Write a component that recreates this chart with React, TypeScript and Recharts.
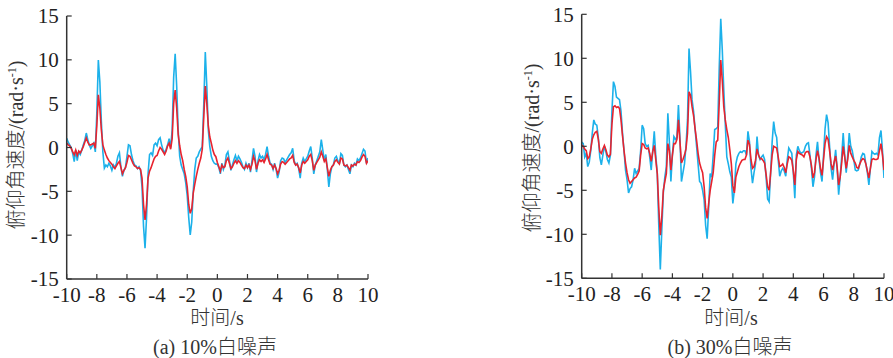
import React from 'react'
import { LineChart, Line, XAxis, YAxis } from 'recharts'

// time grid, 0.1 s steps from -10 s to 10 s
const TIME = Array.from({ length: 201 }, (_, i) => Math.round((-10 + i * 0.1) * 10) / 10)

const X_TICKS = [-10, -8, -6, -4, -2, 0, 2, 4, 6, 8, 10]
const Y_TICKS = [-15, -10, -5, 0, 5, 10, 15]

// (a) 10% white noise — noisy (blue) and filtered (red)
const noisy10 = [
  1.05, 0.6, 0.3, 0.0, -0.7, -1.6, -0.3, -1.5, -0.5, -0.8,
  -0.3, 0.3, 0.8, 1.65, 0.9, 0.3, -0.1, 0.2, 0.5, -0.5,
  4.0, 9.98, 7.5, 3.0, -0.5, -2.35, -2.0, -2.2, -1.8, -2.1,
  -2.6, -2.0, -2.3, -1.8, -1.0, -0.6, -2.2, -3.3, -2.6, -2.3,
  -1.0, 0.3, 0.2, -0.8, -1.5, -2.0, -2.1, -2.4, -2.2, -2.6,
  -4.5, -9.0, -11.5, -8.0, -3.0, -0.8, -0.6, -0.9, 0.3, 0.5,
  0.2, 0.9, 1.1, 0.3, -0.3, -0.6, -0.2, 0.3, 1.0, 0.0,
  2.0, 8.0, 10.7, 7.0, 2.0, -1.0, -2.0, -2.5, -3.0, -4.0,
  -5.5, -8.0, -9.98, -8.5, -5.0, -2.5, -1.2, -1.0, -0.5, -0.2,
  0.1, 5.0, 10.9, 7.0, 2.0, 0.1, -1.0, -1.5, -1.8, -1.9,
  -1.9, -2.3, -3.0, -1.8, -2.5, -2.0, -0.8, -0.5, -1.5, -2.6,
  -2.0, -1.4, -0.9, -1.5, -1.0, -1.3, -1.7, -2.2, -2.5, -1.8,
  -2.3, -1.8, -2.8, -1.5, -0.1, -1.0, -2.8, -1.5, -0.8, -1.2,
  -1.0, -1.4, -0.8, 0.1, -1.0, -1.8, -1.9, -2.5, -1.8, -2.5,
  -3.5, -2.8, -1.5, -1.2, -1.3, -1.7, -1.4, -1.1, -0.8, -0.6,
  -0.1, -1.5, -2.0, -1.8, -2.4, -3.5, -1.8, -1.2, -1.6, -1.3,
  -1.0, -0.4, 0.1, -1.2, -3.0, -2.0, -1.5, -1.0, -0.5, 0.9,
  -0.3, -1.5, -0.8, -2.5, -4.5, -3.0, -2.2, -2.0, -1.2, -1.0,
  -1.5, -1.8, -0.7, -0.9, -2.0, -2.2, -2.0, -2.5, -3.0, -2.0,
  -2.2, -1.8, -2.0, -1.3, -1.5, -1.2, -0.7, -0.2, -0.4, -1.8,
  -1.2,
]
const filtered10 = [
  0.5, 0.3, 0.2, -0.1, -0.5, -0.85, -0.3, -0.9, -0.4, -0.6,
  -0.3, 0.1, 0.6, 1.1, 0.6, 0.3, 0.3, 0.4, 0.5, -0.1,
  2.5, 6.0, 4.5, 2.0, 0.3, -0.3, -0.8, -1.2, -1.5, -1.7,
  -1.9, -2.2, -2.4, -2.1, -1.8, -1.6, -2.3, -3.0, -2.6, -2.3,
  -1.7, -0.9, -1.0, -1.4, -1.8, -2.1, -2.2, -2.4, -2.3, -2.5,
  -3.5, -6.5, -8.27, -6.5, -3.5, -2.7, -2.3, -1.8, -1.3, -1.0,
  -0.9, -0.4, 0.0, -0.2, -0.5, -0.8, -0.4, 0.2, 0.5, -0.2,
  1.0, 5.0, 6.55, 4.5, 1.5, 0.2, -0.8, -1.5, -2.5, -3.3,
  -4.5, -6.5, -7.5, -7.0, -5.2, -4.2, -3.3, -2.5, -1.8, -1.2,
  -0.2, 3.5, 7.0, 5.0, 2.5, 1.2, 0.5, -0.3, -0.8, -1.05,
  -1.7, -2.2, -2.7, -2.0, -2.3, -2.2, -1.5, -1.2, -1.8, -2.4,
  -2.2, -1.8, -1.5, -1.8, -1.5, -1.7, -2.0, -2.3, -2.4, -2.0,
  -2.3, -2.0, -2.5, -1.9, -1.0, -1.5, -2.5, -1.8, -1.4, -1.6,
  -1.4, -1.7, -1.3, -0.8, -1.4, -1.9, -2.0, -2.4, -2.0, -2.4,
  -3.0, -2.6, -1.9, -1.6, -1.7, -1.9, -1.7, -1.5, -1.3, -1.2,
  -0.9, -1.7, -2.0, -1.9, -2.3, -2.9, -2.0, -1.6, -1.8, -1.6,
  -1.4, -1.0, -0.8, -1.5, -2.6, -2.0, -1.7, -1.4, -1.1, -0.5,
  -1.0, -1.6, -1.3, -2.3, -3.3, -2.6, -2.2, -2.0, -1.6, -1.4,
  -1.7, -1.9, -1.2, -1.3, -2.0, -2.1, -2.0, -2.3, -2.6, -2.0,
  -2.1, -1.9, -2.0, -1.6, -1.7, -1.5, -1.1, -0.8, -1.0, -1.8,
  -1.5,
]

// (b) 30% white noise
const noisy30 = [
  0.5, 0.3, -1.2, -0.8, -2.3, -1.8, -0.5, 1.5, 3.0, 2.5,
  2.4, 1.0, -1.3, -2.1, -1.0, 0.0, -0.6, -1.5, -1.9, -1.0,
  4.0, 7.35, 6.8, 5.6, 5.45, 5.3, 4.0, 1.5, -0.5, -2.7,
  -3.8, -5.3, -4.8, -4.6, -3.8, -2.5, -3.1, -2.8, -2.5, -0.5,
  2.4, 2.0, 0.3, 0.0, 0.1, -1.2, -2.7, -0.5, 1.7, -1.0,
  -3.1, -9.0, -14.0, -9.5, -5.3, -3.5, -2.3, 3.75, 0.5, -4.0,
  -1.0, 1.1, 0.8, 1.0, 4.7, 1.0, -4.0, -3.0, -2.0, 0.0,
  3.0, 11.1, 8.5, 5.3, 4.0, 2.0, 0.0, -2.0, -4.0, -4.2,
  -5.0, -6.1, -9.0, -10.5, -7.0, -3.1, -3.5, -1.0, 1.9, 2.0,
  2.2, 9.0, 14.5, 11.0, 6.4, 2.5, -1.2, -2.0, -2.9, -3.5,
  -6.5, -5.0, -2.0, -1.2, -0.8, -0.6, -0.7, -0.5, -0.5, -1.0,
  1.7, 0.5, -2.5, -4.2, -3.0, -2.0, 1.1, -1.0, -1.5, -1.2,
  -1.0, -1.5, -3.5, -6.0, -6.3, -3.0, 0.5, 2.8, 1.5, 1.0,
  -1.5, -3.4, -2.8, -2.5, -2.8, -3.4, -1.5, -0.2, -0.5, -0.8,
  -3.0, -5.9, -1.0, 0.0, -0.5, -0.8, -0.7, -0.6, 0.0, 0.3,
  0.4, -1.0, -2.5, -4.6, -3.5, -1.0, 0.5, -1.5, -3.0, -4.0,
  -1.0, 2.0, 3.6, 2.7, 0.0, -2.5, -3.8, -2.0, -0.4, -2.5,
  -5.5, -3.5, -1.2, 1.5, -1.0, -3.0, -1.0, 1.5, 0.0, -0.5,
  -1.5, -2.7, -2.8, -2.7, -2.0, -1.2, -0.8, -0.9, -2.0, -3.0,
  -4.4, -2.5, -0.6, -0.8, -0.9, -0.8, -1.0, 1.0, 1.8, -0.5,
  -3.6,
]
const filtered30 = [
  0.15, 0.0, -0.3, -0.5, -1.4, -1.2, -0.3, 0.8, 1.3, 1.6,
  1.7, 0.8, -0.6, -0.8, -0.3, 0.1, -0.4, -1.0, -1.2, -0.9,
  2.5, 4.5, 4.6, 4.4, 4.5, 4.3, 3.0, 1.2, -0.5, -1.9,
  -3.0, -3.8, -4.2, -4.0, -3.8, -3.6, -3.5, -3.2, -2.8, -1.0,
  0.3, 0.2, -0.2, -0.3, -0.2, -0.8, -1.7, -0.6, 0.1, -1.5,
  -3.1, -7.0, -10.1, -8.0, -5.0, -4.0, -3.1, 0.3, -0.5, -2.7,
  -1.0, 0.3, 0.3, 0.8, 3.0, 0.5, -1.9, -1.5, -1.0, -0.3,
  1.5, 6.2, 5.8, 4.5, 3.5, 2.0, 0.7, -0.8, -1.9, -2.5,
  -3.0, -4.6, -7.0, -8.2, -6.5, -5.0, -4.0, -3.0, -1.0, 0.5,
  0.7, 5.0, 9.8, 7.5, 4.5, 3.0, 1.9, 1.0, -0.4, -2.0,
  -4.5, -5.3, -3.5, -2.9, -2.3, -1.9, -1.6, -1.5, -1.5, -1.0,
  0.7, 0.2, -1.5, -2.5, -2.3, -1.6, -0.3, -1.0, -1.4, -1.4,
  -1.6, -1.9, -3.2, -4.6, -5.0, -3.0, -1.0, 0.0, -0.1, -0.2,
  -1.2, -2.3, -2.2, -2.0, -2.4, -3.0, -2.0, -1.2, -1.3, -1.6,
  -2.8, -4.4, -1.5, -0.6, -0.8, -0.9, -1.0, -1.2, -0.7, -0.6,
  -0.6, -1.2, -2.2, -3.6, -3.0, -1.5, -0.5, -1.3, -2.5, -3.3,
  -1.5, 0.3, 1.1, 0.8, -0.5, -2.0, -2.7, -1.8, -1.1, -2.4,
  -4.4, -3.5, -1.9, 0.0, -1.2, -2.5, -1.5, 0.1, -0.8, -1.2,
  -1.6, -1.9, -2.4, -2.5, -2.0, -1.6, -1.4, -1.5, -2.0, -2.8,
  -3.6, -2.5, -1.5, -1.4, -1.5, -1.5, -1.4, -0.5, 0.3, -1.0,
  -2.7,
]

const data10 = TIME.map((t, i) => ({ t, noisy: noisy10[i], filtered: filtered10[i] }))
const data30 = TIME.map((t, i) => ({ t, noisy: noisy30[i], filtered: filtered30[i] }))

const SERIF = '"Liberation Serif", "Times New Roman", "Noto Sans CJK SC", serif'
const AXIS = '#333'
const tickStyle = { fontSize: 21, fill: '#222', fontFamily: SERIF }

function Panel({ data, left, width, margin }: {
  data: Array<Record<string, number>>
  left: number
  width: number
  margin: { top: number; right: number; bottom: number; left: number }
}) {
  return (
    <div style={{ position: 'absolute', left, top: 0 }}>
      <LineChart width={width} height={358} data={data} margin={margin}>
        <XAxis
          dataKey="t"
          type="number"
          domain={[-10, 10]}
          ticks={X_TICKS}
          interval={0}
          height={40}
          tick={tickStyle}
          tickSize={-5}
          tickMargin={13}
          axisLine={{ stroke: AXIS, strokeWidth: 1.5 }}
          tickLine={{ stroke: AXIS, strokeWidth: 1.2 }}
          allowDataOverflow
        />
        <YAxis
          type="number"
          domain={[-15, 15]}
          ticks={Y_TICKS}
          interval={0}
          width={60}
          tick={tickStyle}
          tickSize={-5}
          tickMargin={13}
          axisLine={{ stroke: AXIS, strokeWidth: 1.5 }}
          tickLine={{ stroke: AXIS, strokeWidth: 1.2 }}
          allowDataOverflow
        />
        <Line type="linear" dataKey="noisy" stroke="#1cb1ea" strokeWidth={1.6} dot={false} isAnimationActive={false} />
        <Line type="linear" dataKey="filtered" stroke="#e8232e" strokeWidth={1.6} dot={false} isAnimationActive={false} />
      </LineChart>
    </div>
  )
}

function Txt({ x, y, rotate, size = 20, children }: { x: number; y: number; rotate?: boolean; size?: number; children: React.ReactNode }) {
  return (
    <div
      style={{
        position: 'absolute',
        left: x,
        top: y,
        transform: `translate(-50%, -50%)${rotate ? ' rotate(-90deg)' : ''}`,
        whiteSpace: 'nowrap',
        fontFamily: SERIF,
        fontSize: size,
        fontWeight: 300,
        color: '#333',
        lineHeight: 1,
      }}
    >
      {children}
    </div>
  )
}

const yTitle = (
  <>
    俯仰角速度/(rad·s<sup style={{ fontSize: 12, verticalAlign: 'super' }}>-1</sup>)
  </>
)

export default function App() {
  return (
    <div style={{ position: 'absolute', left: 0, top: 0, width: 893, height: 358, background: '#fff', overflow: 'hidden' }}>
      <Panel data={data10} left={0} width={446} margin={{ top: 16, right: 78, bottom: 39, left: 6.7 }} />
      <Panel data={data30} left={446} width={447} margin={{ top: 14.3, right: 9, bottom: 39.7, left: 75.7 }} />
      <Txt x={16} y={145} rotate>{yTitle}</Txt>
      <Txt x={532} y={148} rotate>{yTitle}</Txt>
      <Txt x={217} y={318}>时间/s</Txt>
      <Txt x={731} y={318}>时间/s</Txt>
      <Txt x={215} y={347}>(a) 10%白噪声</Txt>
      <Txt x={730} y={347}>(b) 30%白噪声</Txt>
    </div>
  )
}
